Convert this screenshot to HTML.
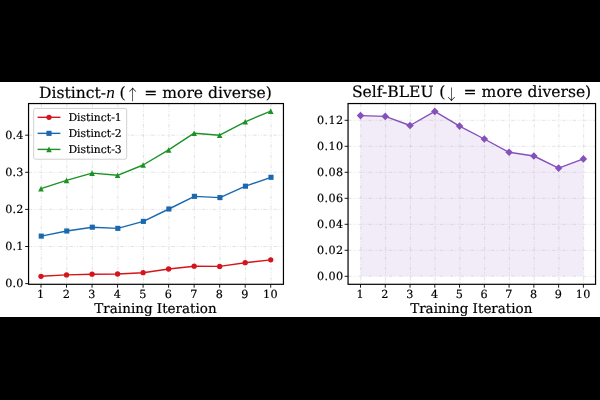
<!DOCTYPE html>
<html lang="en"><head><meta charset="utf-8"><title>Diversity metrics</title>
<style>
html,body{margin:0;padding:0;background:#000;}
body{width:600px;height:400px;overflow:hidden;}
svg{display:block;}
text{font-family:"DejaVu Serif","Liberation Serif",serif;fill:#000;stroke:#000;stroke-width:0.18px;text-rendering:geometricPrecision;}
.tk{font-size:11.2px;letter-spacing:0.45px;}
.lg{font-size:10.8px;letter-spacing:0px;}
.lb{font-size:13.5px;letter-spacing:0px;}
.tt{font-size:15.6px;letter-spacing:0px;}
.it{font-family:"Liberation Serif",serif;font-style:italic;stroke:none;font-size:17.2px;}
.ar{font-family:"Noto Serif CJK SC","DejaVu Serif",serif;font-size:14.9px;stroke:none;}
</style></head><body>
<svg width="600" height="400" viewBox="0 0 600 400">
<rect x="0" y="0" width="600" height="400" fill="#000"/>
<rect x="0" y="82.0" width="600" height="235.00" fill="#fff"/>
<!-- left axes -->
<g stroke="#a4a4a4" stroke-width="0.7" stroke-dasharray="3.6 1.6 0.9 1.6 0.9 1.6" fill="none" opacity="0.45">
<line x1="41.30" y1="103.55" x2="41.30" y2="284.3"/>
<line x1="66.83" y1="103.55" x2="66.83" y2="284.3"/>
<line x1="92.35" y1="103.55" x2="92.35" y2="284.3"/>
<line x1="117.87" y1="103.55" x2="117.87" y2="284.3"/>
<line x1="143.40" y1="103.55" x2="143.40" y2="284.3"/>
<line x1="168.93" y1="103.55" x2="168.93" y2="284.3"/>
<line x1="194.45" y1="103.55" x2="194.45" y2="284.3"/>
<line x1="219.97" y1="103.55" x2="219.97" y2="284.3"/>
<line x1="245.50" y1="103.55" x2="245.50" y2="284.3"/>
<line x1="271.03" y1="103.55" x2="271.03" y2="284.3"/>
<line x1="28.55" y1="246.50" x2="283.45" y2="246.50"/>
<line x1="28.55" y1="209.40" x2="283.45" y2="209.40"/>
<line x1="28.55" y1="172.30" x2="283.45" y2="172.30"/>
<line x1="28.55" y1="135.20" x2="283.45" y2="135.20"/>
</g>
<polyline points="41.00,276.30 66.53,274.90 92.05,274.20 117.57,274.00 143.10,272.70 168.62,269.00 194.15,266.20 219.67,266.40 245.20,262.70 270.73,259.85" fill="none" stroke="#d4151a" stroke-width="1.4" stroke-linejoin="round" stroke-linecap="butt"/>
<circle cx="41.00" cy="276.30" r="2.65" fill="#d4151a"/>
<circle cx="66.53" cy="274.90" r="2.65" fill="#d4151a"/>
<circle cx="92.05" cy="274.20" r="2.65" fill="#d4151a"/>
<circle cx="117.57" cy="274.00" r="2.65" fill="#d4151a"/>
<circle cx="143.10" cy="272.70" r="2.65" fill="#d4151a"/>
<circle cx="168.62" cy="269.00" r="2.65" fill="#d4151a"/>
<circle cx="194.15" cy="266.20" r="2.65" fill="#d4151a"/>
<circle cx="219.67" cy="266.40" r="2.65" fill="#d4151a"/>
<circle cx="245.20" cy="262.70" r="2.65" fill="#d4151a"/>
<circle cx="270.73" cy="259.85" r="2.65" fill="#d4151a"/>
<polyline points="41.25,236.10 66.78,231.00 92.30,227.20 117.82,228.35 143.35,221.40 168.88,209.00 194.40,196.35 219.92,197.60 245.45,186.20 270.98,177.30" fill="none" stroke="#1968b0" stroke-width="1.4" stroke-linejoin="round" stroke-linecap="butt"/>
<rect x="38.70" y="233.55" width="5.10" height="5.10" fill="#1968b0"/>
<rect x="64.23" y="228.45" width="5.10" height="5.10" fill="#1968b0"/>
<rect x="89.75" y="224.65" width="5.10" height="5.10" fill="#1968b0"/>
<rect x="115.27" y="225.80" width="5.10" height="5.10" fill="#1968b0"/>
<rect x="140.80" y="218.85" width="5.10" height="5.10" fill="#1968b0"/>
<rect x="166.32" y="206.45" width="5.10" height="5.10" fill="#1968b0"/>
<rect x="191.85" y="193.80" width="5.10" height="5.10" fill="#1968b0"/>
<rect x="217.37" y="195.05" width="5.10" height="5.10" fill="#1968b0"/>
<rect x="242.90" y="183.65" width="5.10" height="5.10" fill="#1968b0"/>
<rect x="268.43" y="174.75" width="5.10" height="5.10" fill="#1968b0"/>
<polyline points="41.00,188.70 66.53,180.35 92.05,173.15 117.57,175.30 143.10,165.00 168.62,149.95 194.15,133.20 219.67,135.20 245.20,121.80 270.73,111.10" fill="none" stroke="#1c9226" stroke-width="1.4" stroke-linejoin="round" stroke-linecap="butt"/>
<polygon points="41.00,185.90 38.20,191.50 43.80,191.50" fill="#1c9226"/>
<polygon points="66.53,177.55 63.73,183.15 69.33,183.15" fill="#1c9226"/>
<polygon points="92.05,170.35 89.25,175.95 94.85,175.95" fill="#1c9226"/>
<polygon points="117.57,172.50 114.77,178.10 120.37,178.10" fill="#1c9226"/>
<polygon points="143.10,162.20 140.30,167.80 145.90,167.80" fill="#1c9226"/>
<polygon points="168.62,147.15 165.82,152.75 171.43,152.75" fill="#1c9226"/>
<polygon points="194.15,130.40 191.35,136.00 196.95,136.00" fill="#1c9226"/>
<polygon points="219.67,132.40 216.87,138.00 222.47,138.00" fill="#1c9226"/>
<polygon points="245.20,119.00 242.40,124.60 248.00,124.60" fill="#1c9226"/>
<polygon points="270.73,108.30 267.93,113.90 273.53,113.90" fill="#1c9226"/>
<rect x="28.55" y="103.55" width="254.90" height="180.75" fill="none" stroke="#000" stroke-width="1.2"/>
<g stroke="#000" stroke-width="0.9">
<line x1="41.00" y1="284.3" x2="41.00" y2="287.70"/>
<line x1="66.53" y1="284.3" x2="66.53" y2="287.70"/>
<line x1="92.05" y1="284.3" x2="92.05" y2="287.70"/>
<line x1="117.57" y1="284.3" x2="117.57" y2="287.70"/>
<line x1="143.10" y1="284.3" x2="143.10" y2="287.70"/>
<line x1="168.62" y1="284.3" x2="168.62" y2="287.70"/>
<line x1="194.15" y1="284.3" x2="194.15" y2="287.70"/>
<line x1="219.67" y1="284.3" x2="219.67" y2="287.70"/>
<line x1="245.20" y1="284.3" x2="245.20" y2="287.70"/>
<line x1="270.73" y1="284.3" x2="270.73" y2="287.70"/>
</g>
<text class="tk" x="40.90" y="298.00" text-anchor="middle">1</text>
<text class="tk" x="66.43" y="298.00" text-anchor="middle">2</text>
<text class="tk" x="91.95" y="298.00" text-anchor="middle">3</text>
<text class="tk" x="117.47" y="298.00" text-anchor="middle">4</text>
<text class="tk" x="143.00" y="298.00" text-anchor="middle">5</text>
<text class="tk" x="168.53" y="298.00" text-anchor="middle">6</text>
<text class="tk" x="194.05" y="298.00" text-anchor="middle">7</text>
<text class="tk" x="219.57" y="298.00" text-anchor="middle">8</text>
<text class="tk" x="245.10" y="298.00" text-anchor="middle">9</text>
<text class="tk" x="270.62" y="298.00" text-anchor="middle">10</text>
<g stroke="#000" stroke-width="0.9">
<line x1="25.15" y1="283.60" x2="28.55" y2="283.60"/>
<line x1="25.15" y1="246.50" x2="28.55" y2="246.50"/>
<line x1="25.15" y1="209.40" x2="28.55" y2="209.40"/>
<line x1="25.15" y1="172.30" x2="28.55" y2="172.30"/>
<line x1="25.15" y1="135.20" x2="28.55" y2="135.20"/>
</g>
<text class="tk" x="23.40" y="286.90" text-anchor="end" style="letter-spacing:0.1px">0.0</text>
<text class="tk" x="23.40" y="249.80" text-anchor="end" style="letter-spacing:0.1px">0.1</text>
<text class="tk" x="23.40" y="212.70" text-anchor="end" style="letter-spacing:0.1px">0.2</text>
<text class="tk" x="23.40" y="175.60" text-anchor="end" style="letter-spacing:0.1px">0.3</text>
<text class="tk" x="23.40" y="138.50" text-anchor="end" style="letter-spacing:0.1px">0.4</text>
<rect x="33.7" y="108.4" width="93.0" height="50.8" rx="1.8" ry="1.8" fill="#fff" fill-opacity="0.8" stroke="#cccccc" stroke-width="0.9"/>
<line x1="37.6" y1="117.30" x2="60.4" y2="117.30" stroke="#d4151a" stroke-width="1.4"/>
<circle cx="49.00" cy="117.30" r="2.65" fill="#d4151a"/>
<text class="lg" x="68.40" y="121.20">Distinct-1</text>
<line x1="37.6" y1="133.35" x2="60.4" y2="133.35" stroke="#1968b0" stroke-width="1.4"/>
<rect x="46.45" y="130.80" width="5.10" height="5.10" fill="#1968b0"/>
<text class="lg" x="68.40" y="137.25">Distinct-2</text>
<line x1="37.6" y1="149.40" x2="60.4" y2="149.40" stroke="#1c9226" stroke-width="1.4"/>
<polygon points="49.00,146.60 46.20,152.20 51.80,152.20" fill="#1c9226"/>
<text class="lg" x="68.40" y="153.30">Distinct-3</text>
<text class="lb" x="155.50" y="313.00" text-anchor="middle">Training Iteration</text>
<text class="tt" y="97.95"><tspan x="39.0">Distinct-</tspan><tspan class="it" x="106.3" dy="0.1">n</tspan><tspan x="119.6" dy="-0.1">(</tspan><tspan class="ar" x="125.25" dy="1.85">↑</tspan><tspan x="144.2" dy="-1.85">= more diverse)</tspan></text>
<!-- right axes -->
<polygon points="360.50,276.30 360.50,115.60 385.26,116.40 410.03,125.50 434.80,111.40 459.56,126.10 484.32,139.00 509.09,152.30 533.86,156.00 558.62,168.10 583.38,158.90 583.38,276.30" fill="#8450bb" fill-opacity="0.105"/>
<g stroke="#a4a4a4" stroke-width="0.7" stroke-dasharray="3.6 1.6 0.9 1.6 0.9 1.6" fill="none" opacity="0.45">
<line x1="360.80" y1="103.55" x2="360.80" y2="284.3"/>
<line x1="385.56" y1="103.55" x2="385.56" y2="284.3"/>
<line x1="410.33" y1="103.55" x2="410.33" y2="284.3"/>
<line x1="435.10" y1="103.55" x2="435.10" y2="284.3"/>
<line x1="459.86" y1="103.55" x2="459.86" y2="284.3"/>
<line x1="484.62" y1="103.55" x2="484.62" y2="284.3"/>
<line x1="509.39" y1="103.55" x2="509.39" y2="284.3"/>
<line x1="534.15" y1="103.55" x2="534.15" y2="284.3"/>
<line x1="558.92" y1="103.55" x2="558.92" y2="284.3"/>
<line x1="583.68" y1="103.55" x2="583.68" y2="284.3"/>
<line x1="348.05" y1="276.30" x2="595.55" y2="276.30"/>
<line x1="348.05" y1="250.30" x2="595.55" y2="250.30"/>
<line x1="348.05" y1="224.30" x2="595.55" y2="224.30"/>
<line x1="348.05" y1="198.30" x2="595.55" y2="198.30"/>
<line x1="348.05" y1="172.30" x2="595.55" y2="172.30"/>
<line x1="348.05" y1="146.30" x2="595.55" y2="146.30"/>
<line x1="348.05" y1="120.30" x2="595.55" y2="120.30"/>
</g>
<polyline points="360.50,115.60 385.26,116.40 410.03,125.50 434.80,111.40 459.56,126.10 484.32,139.00 509.09,152.30 533.86,156.00 558.62,168.10 583.38,158.90" fill="none" stroke="#8450bb" stroke-width="1.4" stroke-linejoin="round" stroke-linecap="butt"/>
<polygon points="360.50,111.82 364.28,115.60 360.50,119.38 356.72,115.60" fill="#8450bb"/>
<polygon points="385.26,112.62 389.05,116.40 385.26,120.18 381.48,116.40" fill="#8450bb"/>
<polygon points="410.03,121.72 413.81,125.50 410.03,129.28 406.25,125.50" fill="#8450bb"/>
<polygon points="434.80,107.62 438.58,111.40 434.80,115.18 431.01,111.40" fill="#8450bb"/>
<polygon points="459.56,122.32 463.34,126.10 459.56,129.88 455.78,126.10" fill="#8450bb"/>
<polygon points="484.32,135.22 488.11,139.00 484.32,142.78 480.54,139.00" fill="#8450bb"/>
<polygon points="509.09,148.52 512.87,152.30 509.09,156.08 505.31,152.30" fill="#8450bb"/>
<polygon points="533.86,152.22 537.64,156.00 533.86,159.78 530.07,156.00" fill="#8450bb"/>
<polygon points="558.62,164.32 562.40,168.10 558.62,171.88 554.84,168.10" fill="#8450bb"/>
<polygon points="583.38,155.12 587.17,158.90 583.38,162.68 579.60,158.90" fill="#8450bb"/>
<rect x="348.05" y="103.55" width="247.50" height="180.75" fill="none" stroke="#000" stroke-width="1.2"/>
<g stroke="#000" stroke-width="0.9">
<line x1="360.50" y1="284.3" x2="360.50" y2="287.70"/>
<line x1="385.26" y1="284.3" x2="385.26" y2="287.70"/>
<line x1="410.03" y1="284.3" x2="410.03" y2="287.70"/>
<line x1="434.80" y1="284.3" x2="434.80" y2="287.70"/>
<line x1="459.56" y1="284.3" x2="459.56" y2="287.70"/>
<line x1="484.32" y1="284.3" x2="484.32" y2="287.70"/>
<line x1="509.09" y1="284.3" x2="509.09" y2="287.70"/>
<line x1="533.86" y1="284.3" x2="533.86" y2="287.70"/>
<line x1="558.62" y1="284.3" x2="558.62" y2="287.70"/>
<line x1="583.38" y1="284.3" x2="583.38" y2="287.70"/>
</g>
<text class="tk" x="360.40" y="298.00" text-anchor="middle">1</text>
<text class="tk" x="385.16" y="298.00" text-anchor="middle">2</text>
<text class="tk" x="409.93" y="298.00" text-anchor="middle">3</text>
<text class="tk" x="434.69" y="298.00" text-anchor="middle">4</text>
<text class="tk" x="459.46" y="298.00" text-anchor="middle">5</text>
<text class="tk" x="484.22" y="298.00" text-anchor="middle">6</text>
<text class="tk" x="508.99" y="298.00" text-anchor="middle">7</text>
<text class="tk" x="533.75" y="298.00" text-anchor="middle">8</text>
<text class="tk" x="558.52" y="298.00" text-anchor="middle">9</text>
<text class="tk" x="583.28" y="298.00" text-anchor="middle">10</text>
<g stroke="#000" stroke-width="0.9">
<line x1="344.65" y1="276.30" x2="348.05" y2="276.30"/>
<line x1="344.65" y1="250.30" x2="348.05" y2="250.30"/>
<line x1="344.65" y1="224.30" x2="348.05" y2="224.30"/>
<line x1="344.65" y1="198.30" x2="348.05" y2="198.30"/>
<line x1="344.65" y1="172.30" x2="348.05" y2="172.30"/>
<line x1="344.65" y1="146.30" x2="348.05" y2="146.30"/>
<line x1="344.65" y1="120.30" x2="348.05" y2="120.30"/>
</g>
<text class="tk" x="343.60" y="279.60" text-anchor="end">0.00</text>
<text class="tk" x="343.60" y="253.60" text-anchor="end">0.02</text>
<text class="tk" x="343.60" y="227.60" text-anchor="end">0.04</text>
<text class="tk" x="343.60" y="201.60" text-anchor="end">0.06</text>
<text class="tk" x="343.60" y="175.60" text-anchor="end">0.08</text>
<text class="tk" x="343.60" y="149.60" text-anchor="end">0.10</text>
<text class="tk" x="343.60" y="123.60" text-anchor="end">0.12</text>
<text class="lb" x="471.30" y="313.05" text-anchor="middle">Training Iteration</text>
<text class="tt" y="97.1"><tspan x="351.9">Self-BLEU</tspan><tspan x="439.2">(</tspan><tspan class="ar" x="443.95" dy="2.7">↓</tspan><tspan x="463.6" dy="-2.7">= more diverse)</tspan></text>
</svg>
</body></html>
